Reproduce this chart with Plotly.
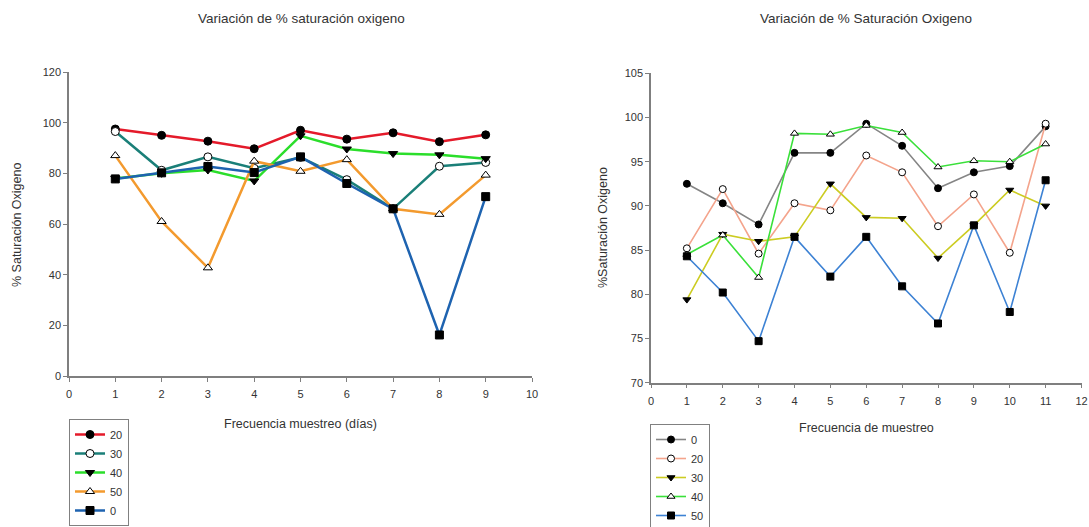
import plotly.graph_objects as go

# ---------------- Data ----------------
# Left chart
dias = [1, 2, 3, 4, 5, 6, 7, 8, 9]
left_names = ["20", "30", "40", "50", "0"]
left_20 = [97.5, 95, 92.7, 89.7, 97, 93.5, 96, 92.5, 95.2]
left_30 = [96.5, 81.2, 86.5, 82, 86.3, 77.5, 66, 82.8, 84.3]
left_40 = [78, 80, 81.3, 77, 94.8, 89.6, 87.8, 87.3, 85.8]
left_50 = [87, 61, 42.7, 84.8, 80.8, 85.4, 66, 63.8, 79.3]
left_0 = [77.8, 80.2, 82.7, 80.3, 86.5, 76, 66, 16.2, 70.8]

# Right chart
muestreo = [1, 2, 3, 4, 5, 6, 7, 8, 9, 10, 11]
right_names = ["0", "20", "30", "40", "50"]
right_0 = [92.5, 90.3, 87.9, 96, 96, 99.3, 96.8, 92, 93.8, 94.5, 99]
right_20 = [85.2, 91.9, 84.6, 90.3, 89.5, 95.7, 93.8, 87.7, 91.3, 84.7, 99.3]
right_30 = [79.4, 86.8, 86, 86.5, 92.5, 88.7, 88.6, 84.1, 87.8, 91.8, 90]
right_40 = [84.5, 86.7, 81.9, 98.2, 98.1, 99.1, 98.3, 94.4, 95.1, 95, 97]
right_50 = [84.3, 80.2, 74.7, 86.5, 82, 86.5, 80.9, 76.7, 87.8, 78, 92.9]

# ---------------- Styles ----------------
left_colors = ["#e41a2a", "#1a7f78", "#2bde2b", "#f39a2e", "#1e63b0"]
left_symbols = ["circle", "circle", "triangle-down", "triangle-up", "square"]
left_fills = ["black", "white", "black", "white", "black"]

right_colors = ["#858585", "#f4a48c", "#cccc22", "#3ae03a", "#3d82d4"]
right_symbols = ["circle", "circle", "triangle-down", "triangle-up", "square"]
right_fills = ["black", "white", "black", "white", "black"]

FONT = "Liberation Sans, Arial, sans-serif"
TXT = "#333333"
AX = "#7f7f7f"

fig = go.Figure()

left_series = [left_20, left_30, left_40, left_50, left_0]
for name, ys, c, s, f in zip(left_names, left_series, left_colors, left_symbols, left_fills):
    fig.add_trace(go.Scatter(
        x=dias, y=ys, name=name, mode="lines+markers",
        line=dict(color=c, width=2.5),
        marker=dict(symbol=s, size=8, color=f, line=dict(color="black", width=1)),
        xaxis="x", yaxis="y", legend="legend"))

right_series = [right_0, right_20, right_30, right_40, right_50]
for name, ys, c, s, f in zip(right_names, right_series, right_colors, right_symbols, right_fills):
    fig.add_trace(go.Scatter(
        x=muestreo, y=ys, name=name, mode="lines+markers",
        line=dict(color=c, width=1.6),
        marker=dict(symbol=s, size=7, color=f, line=dict(color="black", width=1)),
        xaxis="x2", yaxis="y2", legend="legend2"))

W, H = 1089, 527

def axis_common():
    return dict(showline=True, linecolor=AX, linewidth=1.5, ticks="outside",
                tickcolor=AX, ticklen=4, tickwidth=1, showgrid=False, zeroline=False,
                automargin=False,
                tickfont=dict(family=FONT, size=11, color=TXT))

xa = axis_common(); xa.update(domain=[69 / W, 532 / W], range=[0, 10], dtick=1, tick0=0,
                              anchor="y", ticklabelstandoff=3)
ya = axis_common(); ya.update(domain=[1 - 376 / H, 1 - 72 / H], range=[0, 120], dtick=20,
                              anchor="x")
xa2 = axis_common(); xa2.update(domain=[651 / W, 1081.5 / W], range=[0, 12], dtick=1, tick0=0,
                                anchor="y2", ticklabelstandoff=3)
ya2 = axis_common(); ya2.update(domain=[1 - 382.7 / H, 1 - 73.3 / H], range=[70, 105], dtick=5,
                                anchor="x2")

def ann(text, x, y, size, angle=0):
    return dict(text=text, x=x / W, y=1 - y / H, xref="paper", yref="paper",
                showarrow=False, textangle=angle, xanchor="center", yanchor="middle",
                font=dict(family=FONT, size=size, color=TXT))

annotations = [
    ann("Variación de % saturación oxigeno", 301, 19, 13.5),
    ann("Variación de % Saturación Oxigeno", 866, 19, 13.5),
    ann("Frecuencia muestreo (días)", 300, 424, 12.5),
    ann("Frecuencia de muestreo", 866, 428, 12.5),
    ann("% Saturación Oxigeno", 17, 225, 12.5, -90),
    ann("%Saturación Oxigeno", 603, 228, 12.5, -90),
]

legend_common = dict(bordercolor="#808080", borderwidth=1, bgcolor="white",
                     font=dict(family=FONT, size=11, color=TXT), tracegroupgap=0,
                     itemwidth=30, xanchor="left")
leg1 = dict(legend_common); leg1.update(x=69 / W, y=1 - 526 / H, yanchor="bottom",
                                        entrywidth=42)
leg2 = dict(legend_common); leg2.update(x=650 / W, y=1 - 424 / H, yanchor="top",
                                        entrywidth=36)

fig.update_layout(
    width=W, height=H, autosize=False,
    margin=dict(l=0, r=0, t=0, b=0, autoexpand=False),
    paper_bgcolor="white", plot_bgcolor="white",
    xaxis=xa, yaxis=ya, xaxis2=xa2, yaxis2=ya2,
    annotations=annotations,
    legend=leg1, legend2=leg2,
    showlegend=True,
)

fig.write_html("out.html")
